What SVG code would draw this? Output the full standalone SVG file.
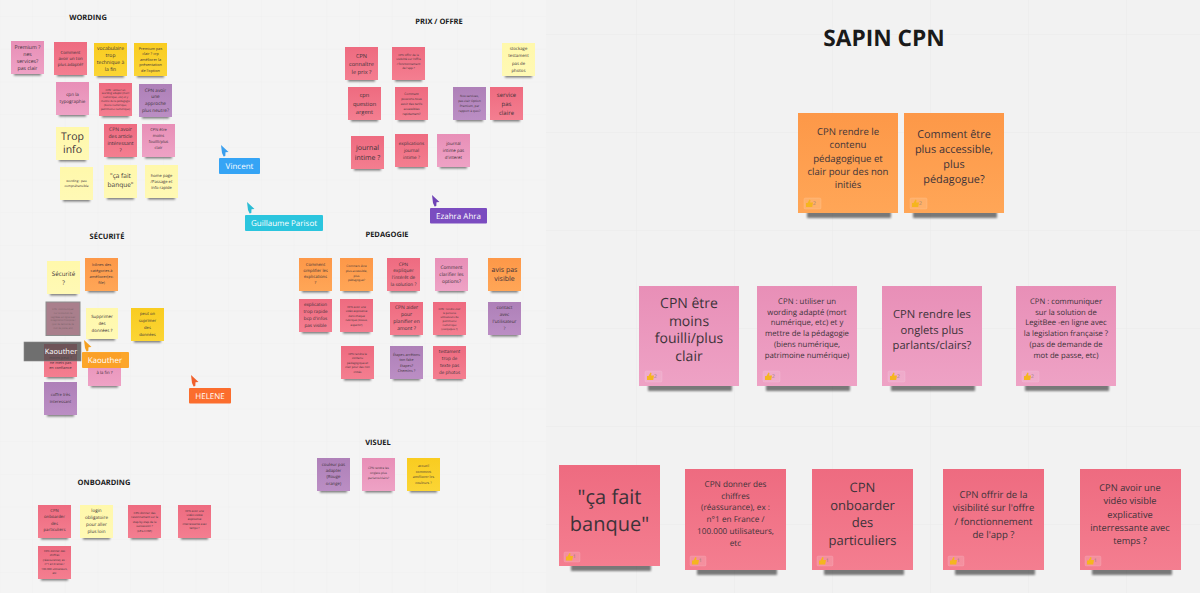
<svg xmlns="http://www.w3.org/2000/svg" width="1200" height="593" viewBox="0 0 1200 593">
<style>
text{font-family:"Open Sans","Noto Sans","Liberation Sans",sans-serif;fill:#3d3339;text-anchor:middle;dominant-baseline:central;text-rendering:geometricPrecision}
.h{font-weight:700;font-size:7.500px;fill:#1a1a1a}
.title{font-weight:700;font-size:22.700px;fill:#1a1a1a}
.r{fill:url(#gr)}.p{fill:url(#gp)}.o{fill:url(#go)}.y{fill:url(#gy)}.g{fill:url(#gg)}.v{fill:url(#gv)}
.sh{fill:#000;opacity:.5;filter:url(#b)}
.lab{fill:#fff;font-size:8px}
.num{font-size:5px;fill:#8a7a70;text-anchor:start}
</style>
<defs>
<linearGradient id="gr" x1="0" y1="0" x2="0" y2="1"><stop offset="0" stop-color="#ee6b80"/><stop offset="1" stop-color="#f47e90"/></linearGradient>
<linearGradient id="gp" x1="0" y1="0" x2="0" y2="1"><stop offset="0" stop-color="#e88fb7"/><stop offset="1" stop-color="#eea2c5"/></linearGradient>
<linearGradient id="go" x1="0" y1="0" x2="0" y2="1"><stop offset="0" stop-color="#fd9848"/><stop offset="1" stop-color="#ffa657"/></linearGradient>
<linearGradient id="gy" x1="0" y1="0" x2="0" y2="1"><stop offset="0" stop-color="#fff8ab"/><stop offset="1" stop-color="#fff9b5"/></linearGradient>
<linearGradient id="gg" x1="0" y1="0" x2="0" y2="1"><stop offset="0" stop-color="#f9cc20"/><stop offset="1" stop-color="#fbd535"/></linearGradient>
<linearGradient id="gv" x1="0" y1="0" x2="0" y2="1"><stop offset="0" stop-color="#ae80b8"/><stop offset="1" stop-color="#bb8ec4"/></linearGradient>
<filter id="b" x="-20%" y="-100%" width="140%" height="300%"><feGaussianBlur stdDeviation="1.200"/></filter>
<pattern id="gl" width="32.700" height="32.700" patternUnits="userSpaceOnUse" x="32" y="16"><path d="M0 0H32.700M0 0V32.700" fill="none" stroke="#efefef" stroke-width="1"/></pattern>
<pattern id="gR" width="98" height="98" patternUnits="userSpaceOnUse" x="636" y="34"><path d="M0 0H98M0 0V98" fill="none" stroke="#e9e9e9" stroke-width="1"/></pattern>
<g id="m"><rect class="sh" x="3" y="30" width="27" height="4.500"/><rect width="33" height="33"/></g>
<g id="L"><rect class="sh" x="9" y="96" width="84" height="9"/><rect width="100" height="100"/>
<rect x="6" y="85" width="17" height="11" rx="1.500" fill="#fff" fill-opacity=".12" stroke="#fff" stroke-opacity=".2" stroke-width=".6"/>
<path d="M8 90h1.500l2-3.500 1 .5-.4 2.600h2.900l-.8 4.400h-6.200z" fill="#f5b51f"/></g>
<g id="R"><rect class="sh" x="12" y="97" width="80" height="9"/><rect width="101" height="101"/>
<rect x="5" y="87" width="16" height="10" rx="1.500" fill="#fff" fill-opacity=".15" stroke="#fff" stroke-opacity=".2" stroke-width=".6"/>
<path d="M7 91.500h1.500l2-3.500 1 .5-.4 2.600h2.900l-.8 4.400h-6.200z" fill="#f5b51f"/></g>
<path id="c" d="M0 0L7.500 7 4.500 7.300 4.300 11 2.600 11.500 1 8z"/>
</defs>
<rect width="546" height="593" fill="#f4f4f4"/>
<rect width="546" height="593" fill="url(#gl)"/>
<rect x="546" width="654" height="593" fill="#f2f2f2"/>
<rect x="546" width="654" height="593" fill="url(#gR)"/>

<text class="h" x="88" y="18">WORDING</text>
<text class="h" x="439" y="22">PRIX / OFFRE</text>
<text class="h" x="387" y="235">PEDAGOGIE</text>
<text class="h" x="107" y="237">SÉCURITÉ</text>
<text class="h" x="104" y="483">ONBOARDING</text>
<text class="h" x="378" y="443">VISUEL</text>
<text class="title" x="884" y="37">SAPIN CPN</text>

<g id="w1" class="p" transform="translate(11 41)"><use href="#m"/><text font-size="5.200" y="6"><tspan x="16.5">Premium ?</tspan><tspan x="16.5" dy="7">nes</tspan><tspan x="16.5" dy="7">services?</tspan><tspan x="16.5" dy="7">pas clair</tspan></text></g>
<g id="w2" class="r" transform="translate(54 42)"><use href="#m"/><text font-size="4.300" y="10.500"><tspan x="16.5">Comment</tspan><tspan x="16.5" dy="6.300">avoir un ton</tspan><tspan x="16.5" dy="6.300">plus adapté?</tspan></text></g>
<g id="w3" class="g" transform="translate(94 43)"><use href="#m"/><text font-size="5" y="6"><tspan x="16.5">vocabulaire</tspan><tspan x="16.5" dy="7">trop</tspan><tspan x="16.5" dy="7">technique à</tspan><tspan x="16.5" dy="7">la fin</tspan></text></g>
<g id="w4" class="g" transform="translate(134 43)"><use href="#m"/><text font-size="3.800" y="5.500"><tspan x="16.5">Premium pas</tspan><tspan x="16.5" dy="5.500">clair ? crp</tspan><tspan x="16.5" dy="5.500">améliorer la</tspan><tspan x="16.5" dy="5.500">présentation</tspan><tspan x="16.5" dy="5.500">de l'option</tspan></text></g>
<g id="w5" class="p" transform="translate(56 82)"><use href="#m"/><text font-size="4.600" y="13"><tspan x="16.5">cpn la</tspan><tspan x="16.5" dy="7">typographie</tspan></text></g>
<g id="w6" class="r" transform="translate(99 83)"><use href="#m"/><text font-size="2.700" y="6.500"><tspan x="16.5">CPN : utiliser un</tspan><tspan x="16.5" dy="3.800">wording adapté (mort</tspan><tspan x="16.5" dy="3.800">numérique, etc) et y</tspan><tspan x="16.5" dy="3.800">mettre de la pédagogie</tspan><tspan x="16.5" dy="3.800">(biens numérique,</tspan><tspan x="16.5" dy="3.800">patrimoine numérique)</tspan></text></g>
<g id="w7" class="v" transform="translate(139 84)"><use href="#m"/><text font-size="4.700" y="6.500"><tspan x="16.5">CPN avoir</tspan><tspan x="16.5" dy="6.700">une</tspan><tspan x="16.5" dy="6.700">approche</tspan><tspan x="16.5" dy="6.700">plus neutre?</tspan></text></g>
<g id="w8" class="y" transform="translate(56 127)"><use href="#m"/><text font-size="10.500" y="10"><tspan x="16.5">Trop</tspan><tspan x="16.5" dy="13">info</tspan></text></g>
<g id="w9" class="r" transform="translate(104 124)"><use href="#m"/><text font-size="5" y="6"><tspan x="16.5">CPN avoir</tspan><tspan x="16.5" dy="7">des article</tspan><tspan x="16.5" dy="7">intéressant</tspan><tspan x="16.5" dy="7">?</tspan></text></g>
<g id="w10" class="p" transform="translate(142 124)"><use href="#m"/><text font-size="4" y="5.500"><tspan x="16.5">CPN être</tspan><tspan x="16.5" dy="6">moins</tspan><tspan x="16.5" dy="6">fouilli/plus</tspan><tspan x="16.5" dy="6">clair</tspan></text></g>
<g id="w11" class="y" transform="translate(60 167)"><use href="#m"/><text font-size="3.200" y="14"><tspan x="16.5">wording : peu</tspan><tspan x="16.5" dy="5">compréhensible</tspan></text></g>
<g id="w12" class="y" transform="translate(104 165)"><use href="#m"/><text font-size="6.500" y="10"><tspan x="16.5">"ça fait</tspan><tspan x="16.5" dy="9">banque"</tspan></text></g>
<g id="w13" class="y" transform="translate(145 165)"><use href="#m"/><text font-size="4.100" y="10.500"><tspan x="16.5">home page</tspan><tspan x="16.5" dy="6">/Passage et</tspan><tspan x="16.5" dy="6">info rapide</tspan></text></g>

<g id="p1" class="r" transform="translate(345 47)"><use href="#m"/><text font-size="5.600" y="8.500"><tspan x="16.5">CPN</tspan><tspan x="16.5" dy="8">connaître</tspan><tspan x="16.5" dy="8">le prix ?</tspan></text></g>
<g id="p2" class="r" transform="translate(392 47)"><use href="#m"/><text font-size="2.900" y="7.500"><tspan x="16.5">CPN offrir de la</tspan><tspan x="16.5" dy="4.500">visibilité sur l'offre</tspan><tspan x="16.5" dy="4.500">/ fonctionnement</tspan><tspan x="16.5" dy="4.500">de l'app ?</tspan></text></g>
<g id="p3" class="y" transform="translate(502 43)"><use href="#m"/><text font-size="4.300" y="6"><tspan x="16.5">stockage</tspan><tspan x="16.5" dy="7.300">testament</tspan><tspan x="16.5" dy="7.300">pas de</tspan><tspan x="16.5" dy="7.300">photos</tspan></text></g>
<g id="p4" class="r" transform="translate(348 87)"><use href="#m"/><text font-size="5.700" y="8"><tspan x="16.5">cpn</tspan><tspan x="16.5" dy="8.500">question</tspan><tspan x="16.5" dy="8.500">argent</tspan></text></g>
<g id="p5" class="r" transform="translate(395 87)"><use href="#m"/><text font-size="3.100" y="6.500"><tspan x="16.5">Comment</tspan><tspan x="16.5" dy="5">pouvons-nous</tspan><tspan x="16.5" dy="5">avoir des tarifs</tspan><tspan x="16.5" dy="5">accessibles</tspan><tspan x="16.5" dy="5">rapidement?</tspan></text></g>
<g id="p6" class="v" transform="translate(453 87)"><use href="#m"/><text font-size="3.100" y="8.500"><tspan x="16.5">Nos services,</tspan><tspan x="16.5" dy="5.200">pas clair Option</tspan><tspan x="16.5" dy="5.200">Premium, par</tspan><tspan x="16.5" dy="5.200">rapport à quoi?</tspan></text></g>
<g id="p7" class="r" transform="translate(490 87)"><use href="#m"/><text font-size="6" y="7.500"><tspan x="16.5">service</tspan><tspan x="16.5" dy="9">pas</tspan><tspan x="16.5" dy="9">claire</tspan></text></g>
<g id="p8" class="r" transform="translate(351 136)"><use href="#m"/><text font-size="7" y="12"><tspan x="16.5">journal</tspan><tspan x="16.5" dy="9.500">intime ?</tspan></text></g>
<g id="p9" class="r" transform="translate(395 134)"><use href="#m"/><text font-size="4.600" y="9.500"><tspan x="16.5">explications</tspan><tspan x="16.5" dy="7">journal</tspan><tspan x="16.5" dy="7">intime ?</tspan></text></g>
<g id="p10" class="p" transform="translate(437 134)"><use href="#m"/><text font-size="4.400" y="9.500"><tspan x="16.5">journal</tspan><tspan x="16.5" dy="7">intime pas</tspan><tspan x="16.5" dy="7">d'interet</tspan></text></g>

<g id="d1" class="o" transform="translate(299 258)"><use href="#m"/><text font-size="4.200" y="7"><tspan x="16.5">Comment</tspan><tspan x="16.5" dy="6">simplifier les</tspan><tspan x="16.5" dy="6">explications</tspan><tspan x="16.5" dy="6">?</tspan></text></g>
<g id="d2" class="o" transform="translate(340 258)"><use href="#m"/><text font-size="3" y="8"><tspan x="16.5">Comment être</tspan><tspan x="16.5" dy="4.800">plus accessible,</tspan><tspan x="16.5" dy="4.800">plus</tspan><tspan x="16.5" dy="4.800">pédagogue?</tspan></text></g>
<g id="d3" class="r" transform="translate(387 258)"><use href="#m"/><text font-size="4.700" y="6.500"><tspan x="16.5">CPN</tspan><tspan x="16.5" dy="6.700">expliquer</tspan><tspan x="16.5" dy="6.700">l'intérêt de</tspan><tspan x="16.5" dy="6.700">la solution ?</tspan></text></g>
<g id="d4" class="p" transform="translate(435 258)"><use href="#m"/><text font-size="4.800" y="9.500"><tspan x="16.5">Comment</tspan><tspan x="16.5" dy="7.300">clarifier les</tspan><tspan x="16.5" dy="7.300">options?</tspan></text></g>
<g id="d5" class="o" transform="translate(488 258)"><use href="#m"/><text font-size="7" y="11.500"><tspan x="16.5">avis pas</tspan><tspan x="16.5" dy="9">visible</tspan></text></g>
<g id="d6" class="r" transform="translate(299 299)"><use href="#m"/><text font-size="4.600" y="6"><tspan x="16.5">explication</tspan><tspan x="16.5" dy="7">trop rapide</tspan><tspan x="16.5" dy="7">bcp d'infos</tspan><tspan x="16.5" dy="7">pas visible</tspan></text></g>
<g id="d7" class="r" transform="translate(340 299)"><use href="#m"/><text font-size="2.800" y="8"><tspan x="16.5">CPN avoir une</tspan><tspan x="16.5" dy="4.400">vidéo explicative</tspan><tspan x="16.5" dy="4.400">dans chaque</tspan><tspan x="16.5" dy="4.400">rubrique (locaux,</tspan><tspan x="16.5" dy="4.400">experts?)</tspan></text></g>
<g id="d8" class="r" transform="translate(390 302)"><use href="#m"/><text font-size="5" y="6"><tspan x="16.5">CPN aider</tspan><tspan x="16.5" dy="7">pour</tspan><tspan x="16.5" dy="7">planifier en</tspan><tspan x="16.5" dy="7">amont ?</tspan></text></g>
<g id="d9" class="r" transform="translate(433 302)"><use href="#m"/><text font-size="2.700" y="6.500"><tspan x="16.5">CPN : rendre clair</tspan><tspan x="16.5" dy="4">la persona</tspan><tspan x="16.5" dy="4">utilisateurs du</tspan><tspan x="16.5" dy="4">patrimoine</tspan><tspan x="16.5" dy="4">numérique</tspan><tspan x="16.5" dy="4">(coéquipes ?)</tspan></text></g>
<g id="d10" class="v" transform="translate(488 302)"><use href="#m"/><text font-size="4.600" y="6"><tspan x="16.5">contact</tspan><tspan x="16.5" dy="7">avec</tspan><tspan x="16.5" dy="7">l'utilisateur</tspan><tspan x="16.5" dy="7">?</tspan></text></g>
<g id="d11" class="r" transform="translate(341 346)"><use href="#m"/><text font-size="2.900" y="8"><tspan x="16.5">CPN rendre le</tspan><tspan x="16.5" dy="4.400">contenu</tspan><tspan x="16.5" dy="4.400">pédagogique et</tspan><tspan x="16.5" dy="4.400">clair pour des non</tspan><tspan x="16.5" dy="4.400">initiés</tspan></text></g>
<g id="d12" class="v" transform="translate(390 346)"><use href="#m"/><text font-size="3.700" y="8.500"><tspan x="16.5">Étapes arrêtons</tspan><tspan x="16.5" dy="5.500">ton fake</tspan><tspan x="16.5" dy="5.500">Etapes?</tspan><tspan x="16.5" dy="5.500">Chemins ?</tspan></text></g>
<g id="d13" class="r" transform="translate(433 346)"><use href="#m"/><text font-size="4.500" y="6"><tspan x="16.5">testament</tspan><tspan x="16.5" dy="7">trop de</tspan><tspan x="16.5" dy="7">texte pas</tspan><tspan x="16.5" dy="7">de photos</tspan></text></g>

<g id="s1" class="y" transform="translate(47 261)"><use href="#m"/><text font-size="6.200" y="11.500"><tspan x="16.5">Sécurité</tspan><tspan x="16.5" dy="9.500">?</tspan></text></g>
<g id="s2" class="o" transform="translate(85 258)"><use href="#m"/><text font-size="3.900" y="7"><tspan x="16.5">Icônes des</tspan><tspan x="16.5" dy="6">catégories à</tspan><tspan x="16.5" dy="6">améliorer(ex:</tspan><tspan x="16.5" dy="6">file)</tspan></text></g>
<g id="s3" transform="translate(46 302)"><rect width="34" height="33.500" fill="#a97f8c" stroke="#8c8c8c" stroke-width="1"/><text font-size="2.300" y="7" style="fill:#7a6068"><tspan x="17">CPN : communiquer</tspan><tspan x="17" dy="3.800">sur la solution de</tspan><tspan x="17" dy="3.800">LegitBee -en ligne avec</tspan><tspan x="17" dy="3.800">la legislation française ?</tspan><tspan x="17" dy="3.800">(pas de demande de</tspan><tspan x="17" dy="3.800">mot de passe, etc)</tspan></text></g>
<g id="s4" class="y" transform="translate(86 308)"><rect class="sh" x="3" y="28" width="26" height="4.500"/><rect width="32" height="31"/><text font-size="4.400" y="8.500"><tspan x="16">Supprimer</tspan><tspan x="16" dy="7">des</tspan><tspan x="16" dy="7">données ?</tspan></text></g>
<g id="s5" class="g" transform="translate(131 308)"><use href="#m"/><text font-size="4.100" y="6"><tspan x="16.5">peut on</tspan><tspan x="16.5" dy="7">suprimer</tspan><tspan x="16.5" dy="7">des</tspan><tspan x="16.5" dy="7">données</tspan></text></g>
<g id="s6" class="r" transform="translate(44 344)"><use href="#m"/><text font-size="3.800" y="13.500"><tspan x="16.5">moins peut ?</tspan><tspan x="16.5" dy="5">ne mets pas</tspan><tspan x="16.5" dy="5">en confiance</tspan></text></g>
<g id="s7" class="p" transform="translate(88 353)"><use href="#m"/><text font-size="4.300" x="16.5" y="19.500">à la fin ?</text></g>
<g id="s8" class="v" transform="translate(44 382)"><use href="#m"/><text font-size="4.100" y="12.500"><tspan x="16.5">coffre très</tspan><tspan x="16.5" dy="7">interessant</tspan></text></g>

<g id="o1" class="r" transform="translate(38 505)"><use href="#m"/><text font-size="4.200" y="6"><tspan x="16.5">CPN</tspan><tspan x="16.5" dy="6.300">onboarder</tspan><tspan x="16.5" dy="6.300">des</tspan><tspan x="16.5" dy="6.300">particuliers</tspan></text></g>
<g id="o2" class="y" transform="translate(80 505)"><use href="#m"/><text font-size="4.600" y="6"><tspan x="16.5">login</tspan><tspan x="16.5" dy="7">obligatoire</tspan><tspan x="16.5" dy="7">pour aller</tspan><tspan x="16.5" dy="7">plus loin</tspan></text></g>
<g id="o3" class="r" transform="translate(128 505)"><use href="#m"/><text font-size="2.900" y="7.500"><tspan x="16.5">CPN donner des</tspan><tspan x="16.5" dy="4.500">raisonnement sur le</tspan><tspan x="16.5" dy="4.500">step by step de la</tspan><tspan x="16.5" dy="4.500">succession ?</tspan><tspan x="16.5" dy="4.500">(LEG CASE)</tspan></text></g>
<g id="o4" class="r" transform="translate(178 505)"><use href="#m"/><text font-size="2.800" y="5.500"><tspan x="16.5">CPN avoir une</tspan><tspan x="16.5" dy="4.400">vidéo visible</tspan><tspan x="16.5" dy="4.400">explicative</tspan><tspan x="16.5" dy="4.400">interressante avec</tspan><tspan x="16.5" dy="4.400">temps ?</tspan></text></g>
<g id="o5" class="r" transform="translate(38 546)"><use href="#m"/><text font-size="2.800" y="5"><tspan x="16.5">CPN donner des</tspan><tspan x="16.5" dy="4.400">chiffres</tspan><tspan x="16.5" dy="4.400">(réassurance), ex :</tspan><tspan x="16.5" dy="4.400">n°1 en France /</tspan><tspan x="16.5" dy="4.400">100.000 utilisateurs,</tspan><tspan x="16.5" dy="4.400">etc</tspan></text></g>

<g id="v1" class="v" transform="translate(317 458)"><use href="#m"/><text font-size="4.300" y="7"><tspan x="16.5">couleur pas</tspan><tspan x="16.5" dy="6.200">adapter</tspan><tspan x="16.5" dy="6.200">(Rouge</tspan><tspan x="16.5" dy="6.200">orange)</tspan></text></g>
<g id="v2" class="p" transform="translate(362 458)"><use href="#m"/><text font-size="3" y="10"><tspan x="16.5">CPN rendre les</tspan><tspan x="16.5" dy="4.800">onglets plus</tspan><tspan x="16.5" dy="4.800">parlants/clairs?</tspan></text></g>
<g id="v3" class="g" transform="translate(407 458)"><use href="#m"/><text font-size="3.500" y="8"><tspan x="16.5">accueil</tspan><tspan x="16.5" dy="5.500">comment</tspan><tspan x="16.5" dy="5.500">améliorer les</tspan><tspan x="16.5" dy="5.500">couleurs ?</tspan></text></g>

<g id="b1" class="o" transform="translate(798 113)"><use href="#L"/><text font-size="9.600" y="17.700"><tspan x="50">CPN rendre le</tspan><tspan x="50" dy="13.400">contenu</tspan><tspan x="50" dy="13.400">pédagogique et</tspan><tspan x="50" dy="13.400">clair pour des non</tspan><tspan x="50" dy="13.400">initiés</tspan></text><text class="num" x="15" y="90.500">2</text></g>
<g id="b2" class="o" transform="translate(904 113)"><use href="#L"/><text font-size="10.900" y="21"><tspan x="50">Comment être</tspan><tspan x="50" dy="15">plus accessible,</tspan><tspan x="50" dy="15">plus</tspan><tspan x="50" dy="15">pédagogue?</tspan></text><text class="num" x="15" y="90.500">2</text></g>
<g id="b3" class="p" transform="translate(639 286)"><use href="#L"/><text font-size="14" y="17"><tspan x="50">CPN être</tspan><tspan x="50" dy="17.700">moins</tspan><tspan x="50" dy="17.700">fouilli/plus</tspan><tspan x="50" dy="17.700">clair</tspan></text><text class="num" x="15" y="90.500">2</text></g>
<g id="b4" class="p" transform="translate(757 286)"><use href="#L"/><text font-size="7.800" y="16"><tspan x="50">CPN : utiliser un</tspan><tspan x="50" dy="10.700">wording adapté (mort</tspan><tspan x="50" dy="10.700">numérique, etc) et y</tspan><tspan x="50" dy="10.700">mettre de la pédagogie</tspan><tspan x="50" dy="10.700">(biens numérique,</tspan><tspan x="50" dy="10.700">patrimoine numérique)</tspan></text><text class="num" x="15" y="90.500">2</text></g>
<g id="b5" class="p" transform="translate(882 286)"><use href="#L"/><text font-size="11.200" y="28"><tspan x="50">CPN rendre les</tspan><tspan x="50" dy="15.700">onglets plus</tspan><tspan x="50" dy="15.700">parlants/clairs?</tspan></text><text class="num" x="15" y="90.500">2</text></g>
<g id="b6" class="p" transform="translate(1016 286)"><use href="#L"/><text font-size="7.700" y="16"><tspan x="50">CPN : communiquer</tspan><tspan x="50" dy="10.700">sur la solution de</tspan><tspan x="50" dy="10.700">LegitBee -en ligne avec</tspan><tspan x="50" dy="10.700">la legislation française ?</tspan><tspan x="50" dy="10.700">(pas de demande de</tspan><tspan x="50" dy="10.700">mot de passe, etc)</tspan></text><text class="num" x="15" y="90.500">2</text></g>
<g id="b7" class="r" transform="translate(559 465)"><use href="#R"/><text font-size="20" y="31"><tspan x="50.500">"ça fait</tspan><tspan x="50.500" dy="27.300">banque"</tspan></text><text class="num" x="14" y="92">1</text></g>
<g id="b8" class="r" transform="translate(685 469)"><use href="#R"/><text font-size="8.200" y="15"><tspan x="50.500">CPN donner des</tspan><tspan x="50.500" dy="11.700">chiffres</tspan><tspan x="50.500" dy="11.700">(réassurance), ex :</tspan><tspan x="50.500" dy="11.700">n°1 en France /</tspan><tspan x="50.500" dy="11.700">100.000 utilisateurs,</tspan><tspan x="50.500" dy="11.700">etc</tspan></text><text class="num" x="14" y="92">1</text></g>
<g id="b9" class="r" transform="translate(812 469)"><use href="#R"/><text font-size="13" y="18"><tspan x="50.500">CPN</tspan><tspan x="50.500" dy="17.500">onboarder</tspan><tspan x="50.500" dy="17.500">des</tspan><tspan x="50.500" dy="17.500">particuliers</tspan></text><text class="num" x="14" y="92">1</text></g>
<g id="b10" class="r" transform="translate(943 469)"><use href="#R"/><text font-size="9.600" y="25"><tspan x="50.500">CPN offrir de la</tspan><tspan x="50.500" dy="13.300">visibilité sur l'offre</tspan><tspan x="50.500" dy="13.300">/ fonctionnement</tspan><tspan x="50.500" dy="13.300">de l'app ?</tspan></text><text class="num" x="14" y="92">1</text></g>
<g id="b11" class="r" transform="translate(1080 469)"><use href="#R"/><text font-size="9.300" y="18"><tspan x="50">CPN avoir une</tspan><tspan x="50" dy="13.300">vidéo visible</tspan><tspan x="50" dy="13.300">explicative</tspan><tspan x="50" dy="13.300">interressante avec</tspan><tspan x="50" dy="13.300">temps ?</tspan></text><text class="num" x="14" y="92">1</text></g>

<g id="cur-kaouther-grey"><rect x="24" y="342" width="57" height="19" fill="#4d4d4d" fill-opacity=".8" stroke="#888" stroke-width=".6"/><text class="lab" x="61" y="351.500" style="font-size:7.500px">Kaouther</text></g>
<g id="cur-kaouther-orange"><use href="#c" x="84" y="340" fill="#f5a020"/><rect x="82" y="352" width="47" height="16" rx="1" fill="#fca11f" fill-opacity=".95"/><text class="lab" x="105" y="360">Kaouther</text></g>
<g id="cur-helene"><use href="#c" x="191" y="375" fill="#f0602c"/><rect x="189" y="388" width="42" height="15.500" rx="1" fill="#fb6d2d"/><text class="lab" x="210" y="396">HELENE</text></g>
<g id="cur-vincent"><use href="#c" x="221" y="145" fill="#3a9fee"/><rect x="219" y="158" width="41" height="16" rx="1" fill="#35a4f5"/><text class="lab" x="239.500" y="166">Vincent</text></g>
<g id="cur-guillaume"><use href="#c" x="247" y="202" fill="#2bbcd4"/><rect x="245" y="215" width="78" height="16" rx="1" fill="#2bc5de"/><text class="lab" x="284" y="223">Guillaume Parisot</text></g>
<g id="cur-ezahra"><use href="#c" x="432" y="195" fill="#6f42b5"/><rect x="430" y="208" width="57" height="15.500" rx="1" fill="#7b4cc0"/><text class="lab" x="458.500" y="216">Ezahra Ahra</text></g>
</svg>
